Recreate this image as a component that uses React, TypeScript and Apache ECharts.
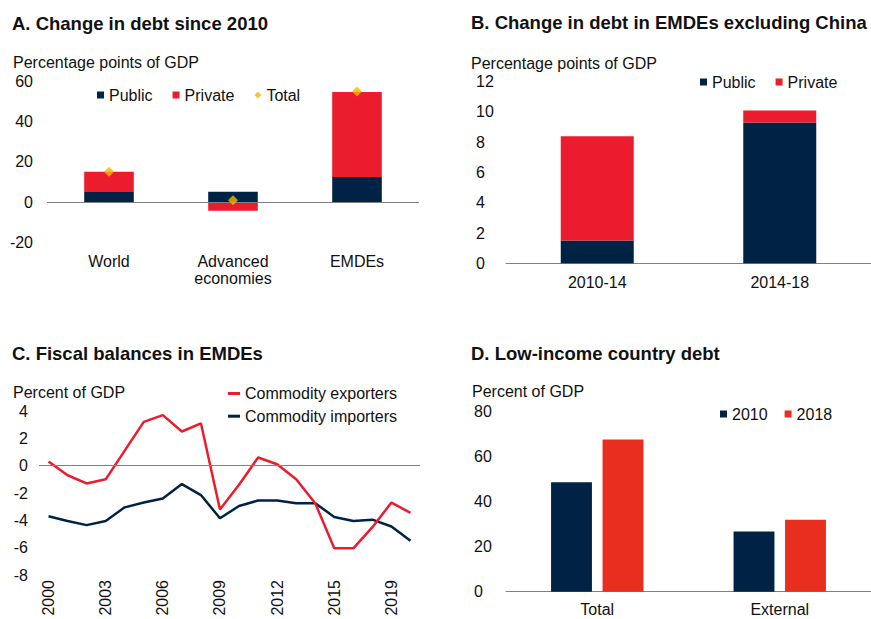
import React, { useEffect, useRef } from "react";
import * as echarts from "echarts";

const NAVY = "#002345";
const RED = "#EB1C2D";
const RED_D = "#E92E1F";
const GOLD = "#F8B500";
const AXIS_GRAY = "#808080";
const TEXT = "#111111";
const FONT = '"Liberation Sans", Arial, Helvetica, sans-serif';

// Panel A: Change in debt since 2010
const aCategories = ["World", "Advanced\neconomies", "EMDEs"];
const aPublic = [5.0, 5.2, 12.5];
const aPrivate = [10.0, -4.3, 42.0];
const aTotal = [15.1, 0.9, 54.8];

// Panel B: Change in debt in EMDEs excluding China
const bCategories = ["2010-14", "2014-18"];
const bPublic = [1.5, 9.3];
const bPrivate = [6.9, 0.8];

// Panel C: Fiscal balances in EMDEs
const cYears = [
  "2000", "2001", "2002", "2003", "2004", "2005", "2006", "2007", "2008", "2009",
  "2010", "2011", "2012", "2013", "2014", "2015", "2016", "2017", "2018", "2019",
];
const cExporters = [0.3, -0.7, -1.3, -1.0, 1.1, 3.2, 3.7, 2.5, 3.1, -3.2, -1.4, 0.6, 0.1, -1.0, -2.75, -6.05, -6.05, -4.5, -2.7, -3.45];
const cImporters = [-3.7, -4.05, -4.35, -4.05, -3.05, -2.7, -2.4, -1.35, -2.15, -3.85, -2.95, -2.55, -2.55, -2.75, -2.75, -3.75, -4.05, -3.95, -4.45, -5.5];
const cTickYears = ["2000", "2003", "2006", "2009", "2012", "2015", "2018"];
const cTickLabels = ["2000", "2003", "2006", "2009", "2012", "2015", "2019"];

// Panel D: Low-income country debt
const dCategories = ["Total", "External"];
const d2010 = [48.6, 26.8];
const d2018 = [67.6, 32.0];

const labelStyle = { fontFamily: FONT, fontSize: 16, color: TEXT };

function txt(text: string, x: number, y: number, bold = false, size = 16) {
  return {
    type: "text",
    x,
    y,
    silent: true,
    style: {
      text,
      fill: TEXT,
      font: `${bold ? "bold " : ""}${size}px ${FONT}`,
      verticalAlign: "middle",
      align: "left",
    },
  };
}

export default function App() {
  const ref = useRef<HTMLDivElement>(null);

  useEffect(() => {
    if (!ref.current) return;
    const chart = echarts.init(ref.current, undefined, { renderer: "svg" });

    const zeroLine = {
      silent: true,
      symbol: ["none", "none"],
      label: { show: false },
      lineStyle: { color: AXIS_GRAY, width: 1, type: "solid" },
      data: [{ yAxis: 0 }],
    };

    const option: any = {
      animation: false,
      backgroundColor: "#ffffff",
      textStyle: { fontFamily: FONT },
      graphic: [
        txt("A. Change in debt since 2010", 12, 23, true, 18.5),
        txt("B. Change in debt in EMDEs excluding China", 471, 22, true, 18.5),
        txt("C. Fiscal balances in EMDEs", 12, 353, true, 18.5),
        txt("D. Low-income country debt", 471, 353, true, 18.5),
        txt("Percentage points of GDP", 13, 62),
        txt("Percentage points of GDP", 471, 63),
        txt("Percent of GDP", 13, 392.5),
        txt("Percent of GDP", 472, 391.5),
      ],
      grid: [
        { left: 47, top: 81, width: 372, height: 161.5 },
        { left: 506, top: 81.7, width: 373, height: 181.6 },
        { left: 39, top: 411, width: 381, height: 164 },
        { left: 506, top: 411.7, width: 371, height: 180 },
      ],
      legend: [
        {
          left: 92,
          top: 81,
          itemWidth: 7,
          itemHeight: 7,
          itemGap: 20,
          textStyle: { ...labelStyle, lineHeight: 18 },
          data: [
            { name: "Public", icon: "rect" },
            { name: "Private", icon: "rect" },
            { name: "Total", icon: "diamond" },
          ],
        },
        {
          left: 695,
          top: 68,
          itemWidth: 7,
          itemHeight: 7,
          itemGap: 20,
          textStyle: { ...labelStyle, lineHeight: 18 },
          data: [
            { name: "Public", icon: "rect" },
            { name: "Private", icon: "rect" },
          ],
        },
        {
          left: 223,
          top: 379.5,
          orient: "vertical",
          itemWidth: 12,
          itemHeight: 3,
          itemGap: 4.7,
          textStyle: { ...labelStyle, lineHeight: 18 },
          data: [
            { name: "Commodity exporters", icon: "rect" },
            { name: "Commodity importers", icon: "rect" },
          ],
        },
        {
          left: 715,
          top: 400,
          itemWidth: 7,
          itemHeight: 7,
          itemGap: 17,
          textStyle: { ...labelStyle, lineHeight: 18 },
          data: [
            { name: "2010", icon: "rect" },
            { name: "2018", icon: "rect" },
          ],
        },
      ],
      xAxis: [
        {
          type: "category",
          gridIndex: 0,
          data: aCategories,
          axisLine: { show: false, onZero: false },
          axisTick: { show: false },
          axisLabel: { ...labelStyle, margin: 11, lineHeight: 16.7 },
        },
        {
          type: "category",
          gridIndex: 1,
          data: bCategories,
          axisLine: { show: true, lineStyle: { color: AXIS_GRAY, width: 1 } },
          axisTick: { show: false },
          axisLabel: { ...labelStyle, margin: 11 },
        },
        {
          type: "category",
          gridIndex: 2,
          data: cYears,
          boundaryGap: true,
          axisLine: { show: false, onZero: false },
          axisTick: { show: false },
          axisLabel: {
            ...labelStyle,
            margin: 5,
            rotate: 90,
            interval: 0,
            formatter: (v: string) => {
              const i = cTickYears.indexOf(v);
              return i >= 0 ? cTickLabels[i] : "";
            },
          },
        },
        {
          type: "category",
          gridIndex: 3,
          data: dCategories,
          axisLine: { show: true, lineStyle: { color: AXIS_GRAY, width: 1 } },
          axisTick: { show: false },
          axisLabel: { ...labelStyle, margin: 10 },
        },
      ],
      yAxis: [
        {
          type: "value",
          gridIndex: 0,
          min: -20,
          max: 60,
          interval: 20,
          splitLine: { show: false },
          axisLine: { show: false },
          axisTick: { show: false },
          axisLabel: { ...labelStyle, margin: 14 },
        },
        {
          type: "value",
          gridIndex: 1,
          min: 0,
          max: 12,
          interval: 2,
          splitLine: { show: false },
          axisLine: { show: false },
          axisTick: { show: false },
          axisLabel: { ...labelStyle, margin: 30, align: "left" },
        },
        {
          type: "value",
          gridIndex: 2,
          min: -8,
          max: 4,
          interval: 2,
          splitLine: { show: false },
          axisLine: { show: false },
          axisTick: { show: false },
          axisLabel: { ...labelStyle, margin: 11 },
        },
        {
          type: "value",
          gridIndex: 3,
          min: 0,
          max: 80,
          interval: 20,
          splitLine: { show: false },
          axisLine: { show: false },
          axisTick: { show: false },
          axisLabel: { ...labelStyle, margin: 32, align: "left" },
        },
      ],
      series: [
        {
          name: "Public",
          type: "bar",
          xAxisIndex: 0,
          yAxisIndex: 0,
          stack: "a",
          barWidth: "40%",
          data: aPublic,
          itemStyle: { color: NAVY },
          markLine: zeroLine,
        },
        {
          name: "Private",
          type: "bar",
          xAxisIndex: 0,
          yAxisIndex: 0,
          stack: "a",
          barWidth: "40%",
          data: aPrivate,
          itemStyle: { color: RED },
        },
        {
          name: "Total",
          type: "scatter",
          xAxisIndex: 0,
          yAxisIndex: 0,
          symbol: "diamond",
          symbolSize: 10,
          data: aTotal,
          itemStyle: { color: GOLD },
          z: 5,
        },
        {
          name: "Public",
          type: "bar",
          xAxisIndex: 1,
          yAxisIndex: 1,
          stack: "b",
          barWidth: "40%",
          data: bPublic,
          itemStyle: { color: NAVY },
        },
        {
          name: "Private",
          type: "bar",
          xAxisIndex: 1,
          yAxisIndex: 1,
          stack: "b",
          barWidth: "40%",
          data: bPrivate,
          itemStyle: { color: RED },
        },
        {
          name: "Commodity exporters",
          type: "line",
          xAxisIndex: 2,
          yAxisIndex: 2,
          data: cExporters,
          showSymbol: false,
          symbol: "none",
          lineStyle: { color: RED, width: 2.5 },
          itemStyle: { color: RED },
          z: 4,
          markLine: zeroLine,
        },
        {
          name: "Commodity importers",
          type: "line",
          xAxisIndex: 2,
          yAxisIndex: 2,
          data: cImporters,
          showSymbol: false,
          symbol: "none",
          lineStyle: { color: NAVY, width: 2.5 },
          itemStyle: { color: NAVY },
          z: 3,
        },
        {
          name: "2010",
          type: "bar",
          xAxisIndex: 3,
          yAxisIndex: 3,
          barWidth: "22.4%",
          barGap: "26%",
          data: d2010,
          itemStyle: { color: NAVY },
        },
        {
          name: "2018",
          type: "bar",
          xAxisIndex: 3,
          yAxisIndex: 3,
          barWidth: "22.4%",
          barGap: "26%",
          data: d2018,
          itemStyle: { color: RED_D },
        },
      ],
    };

    chart.setOption(option);
    return () => chart.dispose();
  }, []);

  return (
    <div
      ref={ref}
      style={{ position: "fixed", left: 0, top: 0, width: 871, height: 619, background: "#fff" }}
    />
  );
}
